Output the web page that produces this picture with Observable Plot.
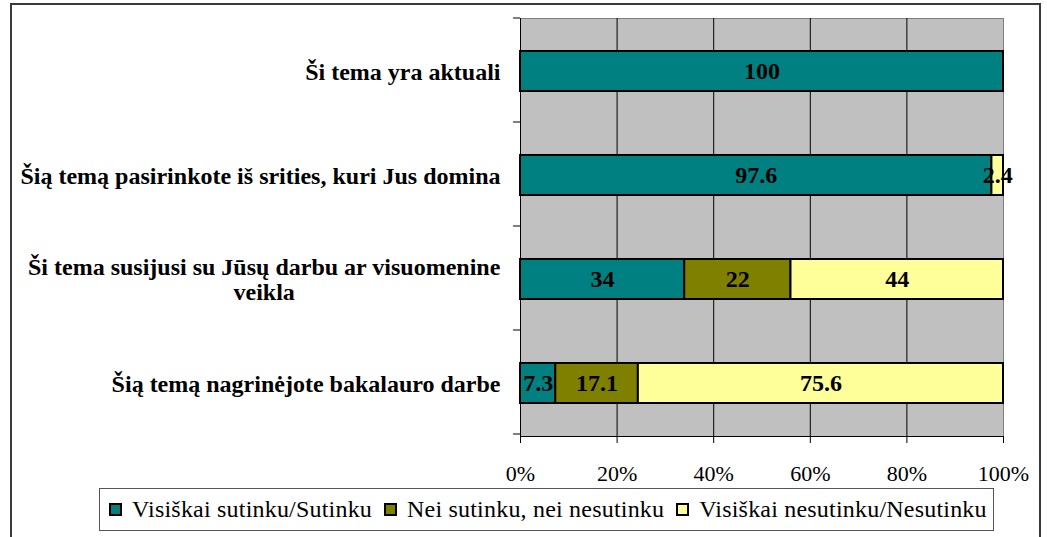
<!DOCTYPE html>
<html>
<head>
<meta charset="utf-8">
<script src="https://cdn.jsdelivr.net/npm/d3@7"></script>
<script src="https://cdn.jsdelivr.net/npm/@observablehq/plot@0.6"></script>
<style>
  html, body { margin: 0; padding: 0; background: #fff; }
  #wrap { position: relative; width: 1047px; height: 537px; overflow: hidden; font-family: "Liberation Serif", "Times New Roman", serif; }
  #border { position: absolute; left: 10px; top: 3px; width: 1031px; height: 560px; border: 2px solid #3a3a3a; box-sizing: border-box; }
  #chart { position: absolute; left: 0; top: 0; }
  #legend { position: absolute; left: 99px; top: 488px; width: 895px; height: 43px; border: 1px solid #555; box-sizing: border-box; background: #fff;
            display: flex; align-items: center; padding-left: 9px; font-size: 24px; letter-spacing: 0.2px; color: #000; white-space: nowrap; }
  .item { display: flex; align-items: center; margin-right: 12px; }
  .sw { width: 9px; height: 9px; border: 2px solid #000; margin-right: 10px; }
</style>
</head>
<body>
<div id="wrap">
  <div id="border"></div>
  <div id="chart"></div>
  <div id="legend"></div>
</div>
<script>
const categories = [
  "Ši tema yra aktuali",
  "Šią temą pasirinkote iš srities, kuri Jus domina",
  "Ši tema susijusi su Jūsų darbu ar visuomenine\nveikla",
  "Šią temą nagrinėjote bakalauro darbe"
];
const series = ["Visiškai sutinku/Sutinku", "Nei sutinku, nei nesutinku", "Visiškai nesutinku/Nesutinku"];
const colors = ["#008080", "#808000", "#FFFF99"];
const agree = [100, 97.6, 34, 7.3];
const neutral = [0, 0, 22, 17.1];
const disagree = [0, 2.4, 44, 75.6];
const xTicks = [0, 20, 40, 60, 80, 100];

const FONT = "Liberation Serif, Times New Roman, serif";
const seriesValues = [agree, neutral, disagree];
const data = [];
categories.forEach((c, i) => {
  series.forEach((s, j) => {
    const v = seriesValues[j][i];
    if (v > 0) data.push({cat: c, series: s, order: j, value: v});
  });
});

const plot = Plot.plot({
  width: 1047,
  height: 500,
  marginLeft: 520,
  marginRight: 44,
  marginTop: 18,
  marginBottom: 64,
  style: {fontFamily: FONT, background: "transparent", color: "#000"},
  x: {domain: [0, 100], label: null},
  y: {domain: categories, paddingInner: 0.62, paddingOuter: 0.31, label: null},
  color: {domain: series, range: colors},
  marks: [
    Plot.frame({fill: "#C0C0C0", stroke: "#808080"}),
    Plot.gridX(xTicks.slice(1, -1), {stroke: "#000", strokeOpacity: 1, strokeWidth: 1}),
    Plot.barX(data, Plot.stackX({x: "value", y: "cat", fill: "series", order: "order", stroke: "#000", strokeWidth: 2})),
    Plot.text(data, Plot.stackX({x: "value", y: "cat", order: "order", text: d => String(d.value), fill: "#000", fontWeight: "bold", fontSize: 24, fontFamily: FONT})),
    Plot.frame({anchor: "left", stroke: "#000"}),
    Plot.frame({anchor: "bottom", stroke: "#000"}),
    Plot.axisX({ticks: xTicks, tickFormat: d => d + "%", tickSize: 7, tickPadding: 22, fontSize: 22, fontFamily: FONT}),
    Plot.axisY({tickSize: 0, tickPadding: 20, fontSize: 24, fontWeight: "bold", lineWidth: 100, lineHeight: 1.05, fontFamily: FONT})
  ]
});

document.getElementById("chart").appendChild(plot);

// center multi-line category labels as a block, right-aligned
const svg = d3.select(plot);
svg.selectAll("[aria-label='y-axis tick label'] text").each(function() {
  const t = d3.select(this);
  const tspans = t.selectAll("tspan");
  if (tspans.size() > 1) {
    const w = this.getBBox().width;
    t.attr("text-anchor", "middle");
    const x0 = +(t.attr("x") || 0);
    tspans.attr("x", x0 - w / 2);
  }
});

// category boundary ticks on the left axis
const ys = plot.scale("y");
const step = ys.step;
const y0 = ys.range[0];
const bounds = d3.range(categories.length + 1).map(i => y0 + i * step);
svg.append("g").attr("stroke", "#000").selectAll("line").data(bounds).join("line")
  .attr("x1", 513).attr("x2", 520).attr("y1", d => d).attr("y2", d => d);

// legend
const legend = d3.select("#legend");
series.forEach((s, i) => {
  const it = legend.append("div").attr("class", "item");
  it.append("div").attr("class", "sw").style("background", colors[i]);
  it.append("span").text(s);
});
</script>
</body>
</html>
